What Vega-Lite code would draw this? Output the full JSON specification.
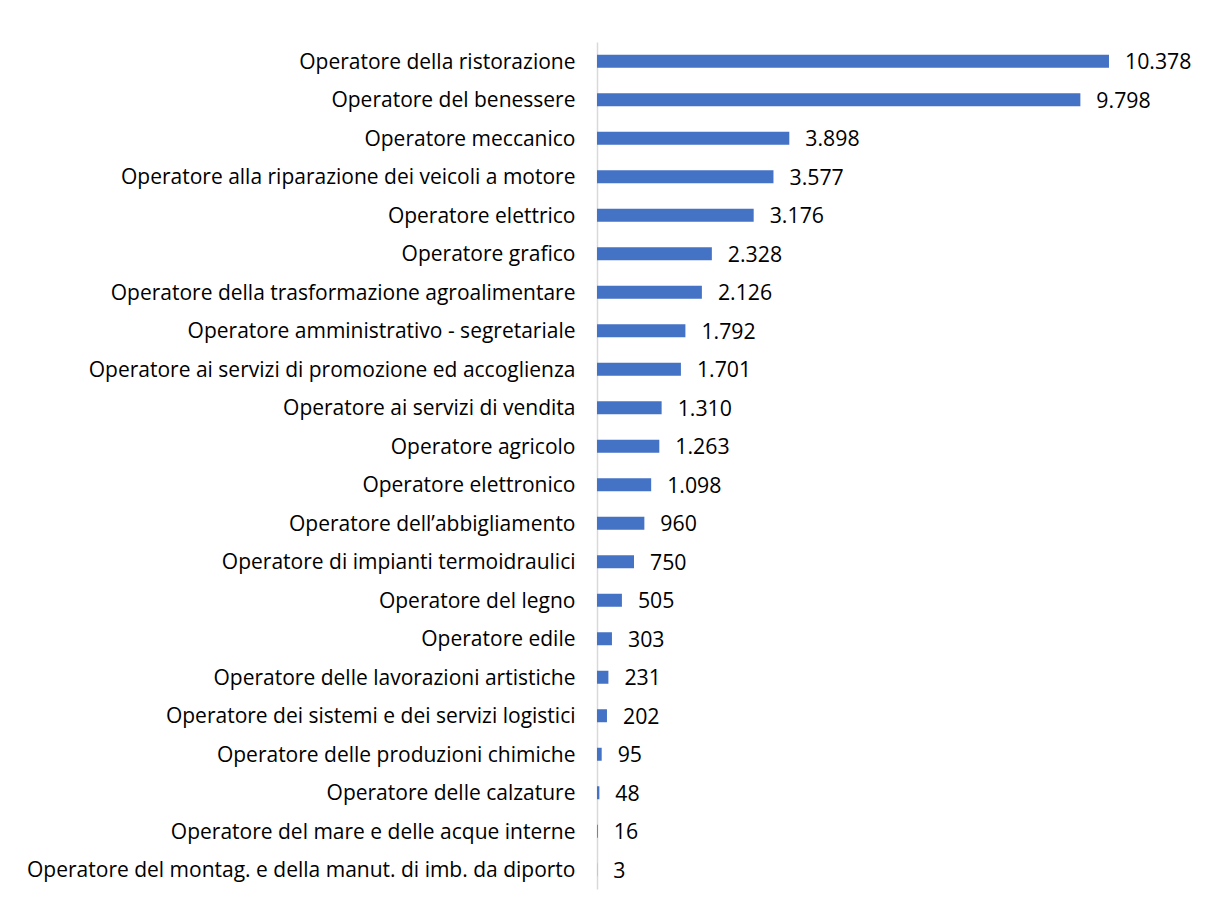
{
  "$schema": "https://vega.github.io/schema/vega-lite/v6.json",
  "autosize": {"type": "none"},
  "padding": {"left": 597, "top": 42, "right": 16, "bottom": 20},
  "width": 592,
  "height": 847,
  "background": "white",
  "config": {
    "view": {"stroke": null},
    "locale": {"number": {"decimal": ",", "thousands": ".", "grouping": [3], "currency": ["€", ""]}},
    "font": "Open Sans"
  },
  "data": {
    "values": [
      {"corso": "Operatore della ristorazione", "valore": 10378},
      {"corso": "Operatore del benessere", "valore": 9798},
      {"corso": "Operatore meccanico", "valore": 3898},
      {"corso": "Operatore alla riparazione dei veicoli a motore", "valore": 3577},
      {"corso": "Operatore elettrico", "valore": 3176},
      {"corso": "Operatore grafico", "valore": 2328},
      {"corso": "Operatore della trasformazione agroalimentare", "valore": 2126},
      {"corso": "Operatore amministrativo - segretariale", "valore": 1792},
      {"corso": "Operatore ai servizi di promozione ed accoglienza", "valore": 1701},
      {"corso": "Operatore ai servizi di vendita", "valore": 1310},
      {"corso": "Operatore agricolo", "valore": 1263},
      {"corso": "Operatore elettronico", "valore": 1098},
      {"corso": "Operatore dell’abbigliamento", "valore": 960},
      {"corso": "Operatore di impianti termoidraulici", "valore": 750},
      {"corso": "Operatore del legno", "valore": 505},
      {"corso": "Operatore edile", "valore": 303},
      {"corso": "Operatore delle lavorazioni artistiche", "valore": 231},
      {"corso": "Operatore dei sistemi e dei servizi logistici", "valore": 202},
      {"corso": "Operatore delle produzioni chimiche", "valore": 95},
      {"corso": "Operatore delle calzature", "valore": 48},
      {"corso": "Operatore del mare e delle acque interne", "valore": 16},
      {"corso": "Operatore del montag. e della manut. di imb. da diporto", "valore": 3}
    ]
  },
  "encoding": {
    "y": {
      "field": "corso",
      "type": "nominal",
      "sort": null,
      "axis": {
        "title": null,
        "ticks": false,
        "domainColor": "#d9d9d9",
        "domainWidth": 1.5,
        "labelFont": "Open Sans",
        "labelFontSize": 21,
        "labelColor": "#000000",
        "labelPadding": 22,
        "labelOffset": 1.5,
        "labelLimit": 700
      }
    },
    "x": {
      "field": "valore",
      "type": "quantitative",
      "scale": {"domain": [0, 12000]},
      "axis": null
    }
  },
  "layer": [
    {
      "mark": {"type": "bar", "color": "#4472c4", "size": 13, "x2": 1}
    },
    {
      "mark": {"type": "text", "align": "left", "dx": 16, "dy": 2, "fontSize": 21.3, "color": "#000000", "font": "Open Sans"},
      "encoding": {
        "text": {"field": "valore", "type": "quantitative", "format": ",d"}
      }
    }
  ]
}
